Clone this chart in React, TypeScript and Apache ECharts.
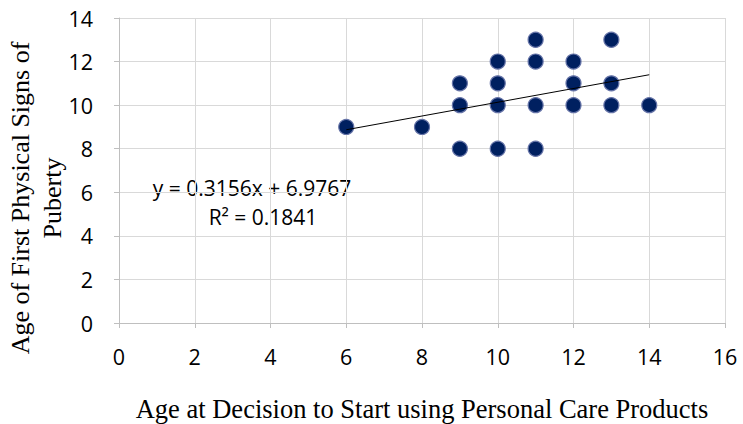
import React, { useEffect, useRef } from "react";
import * as echarts from "echarts";

// Age at decision to start using personal care products (x) vs age of first physical signs of puberty (y)
const decisionAge = [6, 8, 9, 9, 9, 10, 10, 10, 10, 11, 11, 11, 11, 12, 12, 12, 13, 13, 13, 14];
const pubertyAge = [9, 9, 11, 10, 8, 12, 11, 10, 8, 13, 12, 10, 8, 12, 11, 10, 13, 11, 10, 10];

// Linear trendline
const slope = 0.3156;
const intercept = 6.9767;
const rSquared = 0.1841;
const trendRange = [6, 14];

const xTicks = [0, 2, 4, 6, 8, 10, 12, 14, 16];
const yTicks = [0, 2, 4, 6, 8, 10, 12, 14];

const xTitle = "Age at Decision to Start using Personal Care Products";
const yTitle = "Age of First Physical Signs of\nPuberty";

export default function App() {
  const ref = useRef<HTMLDivElement>(null);

  useEffect(() => {
    if (!ref.current) return;
    const chart = echarts.init(ref.current, undefined, { renderer: "svg" });
    const points = decisionAge.map((x, i) => [x, pubertyAge[i]]);
    const trend = trendRange.map((x) => [x, slope * x + intercept]);
    const tickFont = { fontFamily: "Open Sans", fontSize: 21.5, color: "#000" };
    const titleFont = { fontFamily: "Liberation Serif", fontSize: 26.5, color: "#000" };

    chart.setOption({
      animation: false,
      backgroundColor: "#fff",
      grid: { left: 119, right: 18, top: 18, bottom: 101, outerBoundsMode: "none", containLabel: false },
      xAxis: {
        type: "value",
        min: xTicks[0],
        max: xTicks[xTicks.length - 1],
        interval: 2,
        axisLine: { show: true, onZero: false, lineStyle: { color: "#bfbfbf", width: 1 } },
        axisTick: { show: true, length: 5, lineStyle: { color: "#bfbfbf" } },
        splitLine: { show: true, lineStyle: { color: "#d9d9d9", width: 1 } },
        axisLabel: { ...tickFont, margin: 22 },
        name: xTitle,
        nameLocation: "middle",
        nameGap: 72,
        nameTextStyle: titleFont,
      },
      yAxis: {
        type: "value",
        min: yTicks[0],
        max: yTicks[yTicks.length - 1],
        interval: 2,
        axisLine: { show: true, onZero: false, lineStyle: { color: "#bfbfbf", width: 1 } },
        axisTick: { show: true, length: 5, lineStyle: { color: "#bfbfbf" } },
        splitLine: { show: true, lineStyle: { color: "#d9d9d9", width: 1 } },
        axisLabel: { ...tickFont, margin: 26 },
      },
      series: [
        {
          type: "line",
          data: trend,
          symbol: "none",
          lineStyle: { color: "#000", width: 1 },
          z: 3,
          silent: true,
        },
        {
          type: "scatter",
          data: points,
          symbol: "circle",
          symbolSize: 15,
          itemStyle: { color: "#002060", borderColor: "#6674a8", borderWidth: 1.2, opacity: 1 },
          z: 2,
        },
      ],
      graphic: [
        {
          type: "text",
          x: 36,
          y: 198,
          rotation: Math.PI / 2,
          style: {
            text: yTitle,
            fontFamily: titleFont.fontFamily,
            fontSize: 26,
            lineHeight: 32,
            fill: "#000",
            align: "center",
            verticalAlign: "middle",
          },
        },
        {
          type: "text",
          x: 252,
          y: 188,
          style: {
            text: `y = ${slope}x + ${intercept}`,
            fontFamily: "Open Sans",
            fontSize: 21,
            fill: "#000",
            align: "center",
            verticalAlign: "middle",
          },
        },
        {
          type: "text",
          x: 263,
          y: 217,
          style: {
            text: `R² = ${rSquared}`,
            fontFamily: "Open Sans",
            fontSize: 21,
            fill: "#000",
            align: "center",
            verticalAlign: "middle",
          },
        },
      ],
    });
    return () => chart.dispose();
  }, []);

  return (
    <div
      ref={ref}
      style={{ position: "absolute", left: 0, top: 0, width: 743, height: 424 }}
    />
  );
}
